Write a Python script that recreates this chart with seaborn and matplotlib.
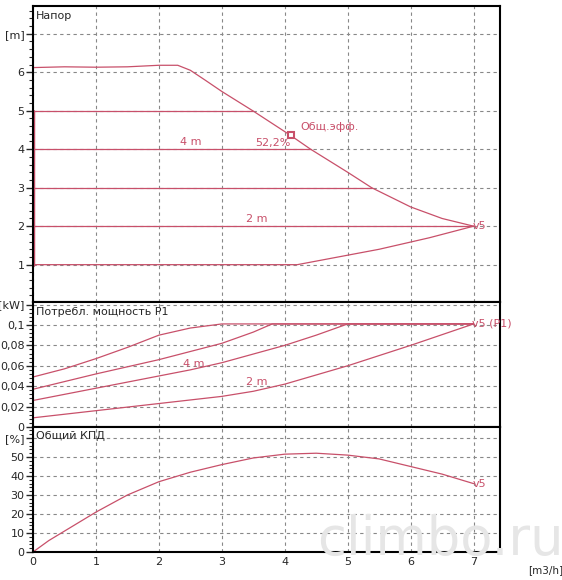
import matplotlib.pyplot as plt
import seaborn as sns
import numpy as np
from matplotlib.ticker import MultipleLocator, FuncFormatter

# Head curves
max_q = [0, 0.5, 1, 1.5, 2, 2.3, 2.5, 2.73, 3.0, 3.49, 4.1, 4.41, 5.0, 5.38, 6.0, 6.5, 7]
max_h = [6.12, 6.14, 6.13, 6.14, 6.18, 6.18, 6.05, 5.8, 5.5, 5.0, 4.35, 4.0, 3.4, 3.0, 2.5, 2.2, 2.0]
const_h = [5, 4, 3, 2]
const_qend = [3.49, 4.41, 5.38, 7.0]
low_q = [0, 4.2, 5.5, 6.3, 7.0]
low_h = [1, 1, 1.4, 1.7, 2.0]

# Power curves P1
p_q = [[0, 0.5, 1, 1.5, 2, 2.5, 3, 7],
       [0, 1, 2, 3, 3.5, 3.8, 7],
       [0, 1, 2, 2.5, 3, 4, 4.5, 5, 7],
       [0, 1, 2, 3, 3.5, 4, 5, 6, 7]]
p_kw = [[0.049, 0.057, 0.067, 0.078, 0.09, 0.097, 0.101, 0.101],
        [0.037, 0.052, 0.066, 0.082, 0.093, 0.101, 0.101],
        [0.026, 0.038, 0.05, 0.056, 0.063, 0.08, 0.09, 0.101, 0.101],
        [0.009, 0.016, 0.023, 0.03, 0.035, 0.042, 0.06, 0.08, 0.101]]

# Efficiency
eff_q = [0, 0.25, 0.5, 1, 1.5, 2, 2.5, 3, 3.5, 4, 4.5, 5, 5.5, 6, 6.5, 7]
eff_p = [0, 6, 11, 21, 30, 37, 42, 46, 49.5, 51.5, 52, 51, 49, 45, 41, 36]

sns.set_theme(style="white")
plt.rcParams['font.family'] = ['DejaVu Sans']
red = "#c8506a"

fig = plt.figure(figsize=(5.62, 5.8), dpi=100)
L, W = 33 / 562, 467 / 562
def ax_at(top, bot):
    return fig.add_axes([L, 1 - bot / 580, W, (bot - top) / 580])
ax1 = ax_at(6, 302)
ax2 = ax_at(302, 427)
ax3 = ax_at(427, 552)

comma = FuncFormatter(lambda v, p: ("%g" % v).replace(".", ","))
for ax, ylim, major, minor in [(ax1, (0.03, 7.72), 1, 0.2), (ax2, (0, 0.1225), 0.02, 0.004),
                               (ax3, (0, 65.8), 10, 2)]:
    ax.set_xlim(0, 7.42)
    ax.set_ylim(*ylim)
    ax.xaxis.set_major_locator(MultipleLocator(1))
    ax.yaxis.set_major_locator(MultipleLocator(major))
    ax.yaxis.set_minor_locator(MultipleLocator(minor))
    ax.yaxis.set_major_formatter(comma)
    ax.grid(True, which="major", color="#888888", linestyle=(0, (3, 3)), linewidth=0.8)
    ax.tick_params(axis="y", which="major", length=5, width=1, direction="out", labelsize=8, pad=1, left=True)
    ax.tick_params(axis="y", which="minor", length=3, width=0.8, direction="out", left=True)
    ax.tick_params(axis="x", length=0, labelsize=8)
    for s in ax.spines.values():
        s.set_color("black")
        s.set_linewidth(1.5)
    if ax is not ax3:
        ax.set_xticklabels([])
ax1.set_yticks([1, 2, 3, 4, 5, 6, 7])
ax1.set_yticklabels(["1", "2", "3", "4", "5", "6", "[m]"])
ax2.set_yticks([0, 0.02, 0.04, 0.06, 0.08, 0.1, 0.12])
ax2.set_yticklabels(["0", "0,02", "0,04", "0,06", "0,08", "0,1", "[kW]"])
ax3.set_yticks([0, 10, 20, 30, 40, 50, 60])
ax3.set_yticklabels(["0", "10", "20", "30", "40", "50", "[%]"])
ax3.set_xticks(range(8))

# Head
sns.lineplot(x=max_q, y=max_h, ax=ax1, color=red, linewidth=0.9)
for h, qe in zip(const_h, const_qend):
    sns.lineplot(x=[0, qe], y=[h, h], ax=ax1, color=red, linewidth=0.9)
sns.lineplot(x=low_q, y=low_h, ax=ax1, color=red, linewidth=0.9)
ax1.plot([0, 0], [1, 5], color=red, linewidth=2.5)
ax1.plot([4.1], [4.38], marker="s", markersize=5, markerfacecolor="white", markeredgecolor=red, markeredgewidth=1.5)
ax1.text(4.25, 4.45, "Общ.эфф.", color=red, fontsize=8, va="bottom")
ax1.text(4.1, 4.3, "52,2%", color=red, fontsize=8, ha="right", va="top")
ax1.text(2.5, 4.05, "4 m", color=red, fontsize=8, ha="center", va="bottom")
ax1.text(3.55, 2.05, "2 m", color=red, fontsize=8, ha="center", va="bottom")
ax1.text(6.98, 2.0, "v5", color=red, fontsize=8, va="center")
ax1.text(0.04, 7.6, "Напор", fontsize=8, va="top")

# Power
for q, p in zip(p_q, p_kw):
    sns.lineplot(x=q, y=p, ax=ax2, color=red, linewidth=0.9)
ax2.text(2.55, 0.062, "4 m", color=red, fontsize=8, ha="center", va="center")
ax2.text(3.55, 0.044, "2 m", color=red, fontsize=8, ha="center", va="center")
ax2.text(6.98, 0.101, "v5 (P1)", color=red, fontsize=8, va="center")
ax2.text(0.04, 0.118, "Потребл. мощность P1", fontsize=8, va="top")

# Efficiency
sns.lineplot(x=eff_q, y=eff_p, ax=ax3, color=red, linewidth=0.9)
ax3.text(6.98, 36, "v5", color=red, fontsize=8, va="center")
ax3.text(0.04, 63.5, "Общий КПД", fontsize=8, va="top")
ax3.set_xlabel("")
for ax in (ax1, ax2, ax3):
    ax.set_ylabel("")

fig.text(528 / 562, 1 - 570 / 580, "[m3/h]", fontsize=7.5, ha="left", va="center")
fig.text(440 / 562, 1 - 540 / 580, "climbo.ru", fontsize=38, color="#e6e6e6", ha="center", va="center", zorder=0)

fig.savefig("out.png", dpi=100, facecolor="white")
